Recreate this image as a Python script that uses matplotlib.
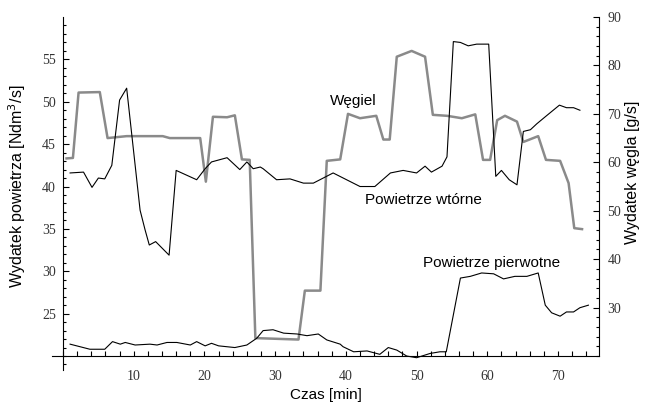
import numpy as np
import matplotlib
matplotlib.use("Agg")
import matplotlib.pyplot as plt
from matplotlib.ticker import FixedLocator

# Węgiel (oś prawa, g/s)
t_wegiel = [0.5, 1.4, 2.2, 5.2, 6.3, 9.0, 14.1, 15.1, 19.4, 20.2, 21.2, 23.2, 24.3,
            25.3, 26.4, 27.2, 33.3, 34.2, 36.4, 37.3, 39.2, 40.3, 42.0, 44.3, 45.3,
            46.2, 47.2, 49.3, 51.2, 52.3, 54.3, 56.4, 58.3, 59.4, 60.4, 61.4, 62.5,
            64.2, 65.1, 67.2, 68.3, 70.3, 71.5, 72.3, 73.4]
wegiel = [60.8, 60.9, 74.4, 74.5, 65.0, 65.4, 65.4, 65.0, 65.0, 56.0, 69.4, 69.3, 69.7,
          60.6, 60.5, 23.7, 23.4, 33.5, 33.5, 60.3, 60.6, 70.0, 69.1, 69.6, 64.7,
          64.7, 81.8, 83.0, 81.8, 69.8, 69.6, 69.1, 69.9, 60.5, 60.5, 68.7, 69.6,
          68.4, 64.2, 65.4, 60.5, 60.3, 55.7, 46.4, 46.2]

# Powietrze wtórne (oś lewa, Ndm3/s)
t_wtorne = [1.0, 2.9, 4.1, 5.0, 5.9, 6.9, 8.0, 9.0, 10.9, 11.6, 12.2, 13.1, 15.0, 16.0,
            18.9, 20.1, 21.0, 23.2, 25.0, 26.0, 26.9, 27.9, 28.3, 30.2, 32.1, 34.0,
            35.4, 38.2, 42.0, 44.1, 46.3, 48.1, 50.0, 51.2, 52.1, 53.6, 54.3, 55.2,
            56.2, 57.3, 58.5, 60.2, 61.2, 62.0, 63.1, 64.2, 65.1, 66.1, 67.0, 68.3,
            70.2, 71.2, 72.2, 73.1]
wtorne = [41.6, 41.7, 39.9, 41.0, 40.9, 42.5, 50.2, 51.6, 37.2, 34.9, 33.1, 33.5, 31.9, 41.9,
          40.8, 42.1, 42.9, 43.4, 42.0, 42.9, 42.1, 42.3, 42.1, 40.8, 40.9, 40.4,
          40.4, 41.6, 40.0, 40.0, 41.6, 41.9, 41.6, 42.4, 41.7, 42.4, 43.5, 57.1,
          57.0, 56.6, 56.8, 56.8, 41.2, 41.9, 40.8, 40.2, 46.5, 46.7, 47.4, 48.3,
          49.6, 49.3, 49.3, 49.0]

# Powietrze pierwotne (oś lewa, Ndm3/s)
t_pierw = [1.0, 3.8, 5.9, 7.0, 8.1, 8.8, 10.2, 12.3, 13.3, 14.7, 16.1, 18.0, 18.9, 20.1,
           21.0, 22.0, 24.3, 26.0, 27.4, 28.3, 29.7, 31.2, 33.1, 34.5, 36.1, 37.3,
           39.2, 39.6, 41.1, 43.0, 44.8, 46.0, 47.2, 48.6, 50.0, 51.9, 53.3, 54.2,
           56.2, 57.6, 59.2, 60.9, 62.3, 63.9, 65.6, 67.2, 68.2, 69.1, 70.3, 71.2,
           72.2, 73.1, 74.3]
pierw = [21.4, 20.8, 20.8, 21.7, 21.4, 21.6, 21.3, 21.4, 21.3, 21.6, 21.6, 21.3, 21.7, 21.2,
         21.5, 21.2, 21.0, 21.3, 22.1, 23.0, 23.1, 22.7, 22.6, 22.4, 22.6, 21.9,
         21.4, 21.1, 20.5, 20.6, 20.2, 21.0, 20.7, 20.0, 19.8, 20.3, 20.5, 20.5,
         29.2, 29.4, 29.8, 29.7, 29.1, 29.4, 29.4, 29.8, 26.0, 25.1, 24.7, 25.2,
         25.2, 25.7, 26.0]

tick_family = "Liberation Serif"
lab_font = "Liberation Sans"
tick_col = "#333333"

fig = plt.figure(figsize=(6.45, 4.05), dpi=100)
ax = fig.add_axes([0.0806, 0.0864, 0.8481, 0.8716])
ax2 = ax.twinx()

# --- linie ---
ax2.plot(t_wegiel, wegiel, color="#8a8a8a", lw=1.8)
ax.plot(t_wtorne, wtorne, color="black", lw=0.8)
ax.plot(t_pierw, pierw, color="black", lw=0.8)
ax.set_zorder(ax2.get_zorder() + 1)
ax.patch.set_visible(False)

# --- osie ---
ax.set_xlim(-1.56, 75.8)
ax.set_ylim(18.35, 60)
ax2.set_ylim(17.11, 90)

ax.spines["top"].set_visible(False)
ax.spines["right"].set_visible(False)
ax.spines["left"].set_position(("data", 0))
ax.spines["bottom"].set_position(("data", 20))
for s in ["top", "left", "bottom"]:
    ax2.spines[s].set_visible(False)
ax2.spines["right"].set_bounds(20, 90)

ax.xaxis.set_major_locator(FixedLocator([10, 20, 30, 40, 50, 60, 70]))
ax.xaxis.set_minor_locator(FixedLocator(np.arange(0, 76, 2)))
ax.yaxis.set_major_locator(FixedLocator([25, 30, 35, 40, 45, 50, 55]))
ax.yaxis.set_minor_locator(FixedLocator(np.arange(19, 60, 1)))
ax2.yaxis.set_major_locator(FixedLocator([30, 40, 50, 60, 70, 80, 90]))
ax2.yaxis.set_minor_locator(FixedLocator(np.arange(20, 90, 2)))

ax.tick_params(axis="x", which="both", direction="in", length=3.3, width=0.8, pad=10,
               labelcolor=tick_col)
ax.tick_params(axis="y", which="major", direction="in", length=4.5, width=0.8, pad=5,
               labelcolor=tick_col)
ax.tick_params(axis="y", which="minor", direction="in", length=2.5, width=0.8)
ax2.tick_params(axis="y", which="major", direction="in", length=4.5, width=0.8, pad=6,
                labelcolor=tick_col)
ax2.tick_params(axis="y", which="minor", direction="in", length=2.5, width=0.8)
for lbl in ax.get_xticklabels() + ax.get_yticklabels() + ax2.get_yticklabels():
    lbl.set_fontfamily(tick_family)
    lbl.set_fontsize(10)

ax.set_xlabel("Czas [min]", fontfamily=lab_font, fontsize=11)
ax.xaxis.set_label_coords(0.5, -0.05)
ax.set_ylabel("Wydatek powietrza [Ndm$^3$/s]", fontfamily=lab_font, fontsize=11.5)
ax.yaxis.set_label_coords(-0.043, 0.52)
ax2.set_ylabel("Wydatek węgla [g/s]", fontfamily=lab_font, fontsize=11.5)
ax2.yaxis.set_label_coords(1.048, 0.56)

# --- opisy serii ---
ax.text(37.8, 50.1, "Węgiel", fontfamily=lab_font, fontsize=11, va="center")
ax.text(42.7, 38.4, "Powietrze wtórne", fontfamily=lab_font, fontsize=11, va="center")
ax.text(50.9, 31.0, "Powietrze pierwotne", fontfamily=lab_font, fontsize=11, va="center")

fig.savefig("out.png", dpi=100)
